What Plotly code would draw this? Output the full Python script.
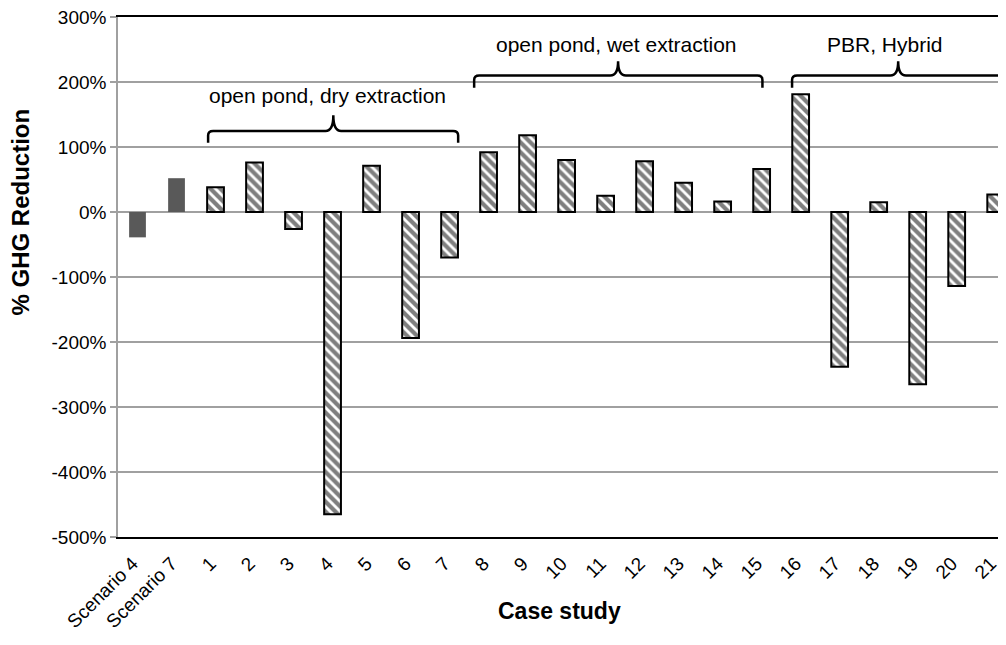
import plotly.graph_objects as go

# ---- data ----
scenario_labels = ["Scenario 4", "Scenario 7"]
scenario_values = [-39, 52]
case_labels = [str(i) for i in range(1, 22)]
case_values = [38, 76, -26, -465, 71, -194, -70,
               92, 118, 80, 25, 78, 45, 16, 66,
               181, -238, 15, -265, -114, 27]
categories = scenario_labels + case_labels
y_ticks = [300, 200, 100, 0, -100, -200, -300, -400, -500]

group_labels = ["open pond, dry extraction", "open pond, wet extraction", "PBR, Hybrid"]

# ---- geometry of the brackets (annotation layout, in axis units) ----
brackets = [
    dict(x0=1.81, x1=8.22, xp=5.02, yh=124.6, yb=106.5, ypk=148.8, xt=4.88, yt=180),
    dict(x0=8.63, x1=16.02, xp=12.32, yh=210.0, yb=191.0, ypk=232.0, xt=12.27, yt=258),
    dict(x0=16.78, x1=22.21, xp=19.50, yh=210.0, yb=191.0, ypk=232.0, xt=19.17, yt=258),
]

FONT = "Arial, Liberation Sans, sans-serif"

# page has an 8px body margin; figure fits inside the window
W, H = 990, 629
OFF = 8
ML, MT = 118.2 - OFF, 17.3 - OFF
PH = 520
MB = H - MT - PH
PW = W - ML
STEP = 39.0

x_scen = list(range(len(scenario_labels)))
x_case = list(range(len(scenario_labels), len(categories)))

fig = go.Figure()
fig.add_trace(go.Bar(
    x=x_scen, y=scenario_values, width=0.43,
    marker=dict(color="#595959", line=dict(width=0)),
    showlegend=False, hoverinfo="skip"))
fig.add_trace(go.Bar(
    x=x_case, y=case_values, width=0.43,
    marker=dict(color="white", line=dict(color="black", width=2),
                pattern=dict(shape="\\", fgcolor="black", bgcolor="white",
                             size=7, solidity=0.6)),
    showlegend=False, hoverinfo="skip"))

shapes = []
annotations = []
r = 0.13   # corner radius in x units
dr = 7.0   # corner radius in y units
rc = 0.2   # cusp half-width
for b, lab in zip(brackets, group_labels):
    x0, x1, xp, yh, yb, ypk = b["x0"], b["x1"], b["xp"], b["yh"], b["yb"], b["ypk"]
    path = (f"M {x0},{yb} L {x0},{yh-dr} Q {x0},{yh} {x0+r},{yh} "
            f"L {xp-rc},{yh} Q {xp},{yh} {xp},{ypk} "
            f"Q {xp},{yh} {xp+rc},{yh} "
            f"L {x1-r},{yh} Q {x1},{yh} {x1},{yh-dr} L {x1},{yb}")
    shapes.append(dict(type="path", path=path, xref="x", yref="y",
                       line=dict(color="black", width=2.5), layer="above"))
    annotations.append(dict(x=b["xt"], y=b["yt"], xref="x", yref="y",
                            text=lab, showarrow=False,
                            font=dict(family=FONT, size=21, color="black"),
                            xanchor="center", yanchor="middle"))

# axis titles (positions given in reference-page pixels)
annotations.append(dict(x=(21 - 118.2) / PW, y=(537.3 - 212) / PH, xref="paper", yref="paper",
                        text="<b>% GHG Reduction</b>", textangle=-90, showarrow=False,
                        font=dict(family=FONT, size=24, color="black"),
                        xanchor="center", yanchor="middle"))
annotations.append(dict(x=(560 - 118.2) / PW, y=-(611 - 537.3) / PH, xref="paper", yref="paper",
                        text="<b>Case study</b>", showarrow=False,
                        font=dict(family=FONT, size=23, color="black"),
                        xanchor="center", yanchor="middle"))

fig.update_layout(
    width=W, height=H,
    margin=dict(l=ML, r=0, t=MT, b=MB, autoexpand=False),
    paper_bgcolor="white", plot_bgcolor="white",
    barmode="overlay",
    shapes=shapes, annotations=annotations,
    font=dict(family=FONT, color="black"),
)
fig.update_xaxes(
    range=[-0.5, -0.5 + PW / STEP], automargin=False,
    tickmode="array", tickvals=list(range(len(categories))), ticktext=categories,
    tickangle=-45, ticks="", showgrid=False, zeroline=False,
    showline=True, linecolor="black", linewidth=2, mirror=True,
    ticklabelstandoff=6, ticklabelshift=-5, ticklabeloverflow="allow",
    tickfont=dict(family=FONT, size=19, color="black"),
)
fig.update_yaxes(
    range=[-500, 300], automargin=False, tickmode="array", tickvals=y_ticks,
    ticktext=[f"{v}%" for v in y_ticks], ticklabeloverflow="allow",
    showgrid=True, gridcolor="#A0A0A0", gridwidth=1.5,
    zeroline=True, zerolinecolor="#A0A0A0", zerolinewidth=1.5,
    showline=True, linecolor="#A0A0A0", linewidth=1.5,
    ticks="outside", ticklen=6, tickcolor="#A0A0A0", tickwidth=1.5,
    tickfont=dict(family=FONT, size=19, color="black"),
)

fig.write_html("out.html")
